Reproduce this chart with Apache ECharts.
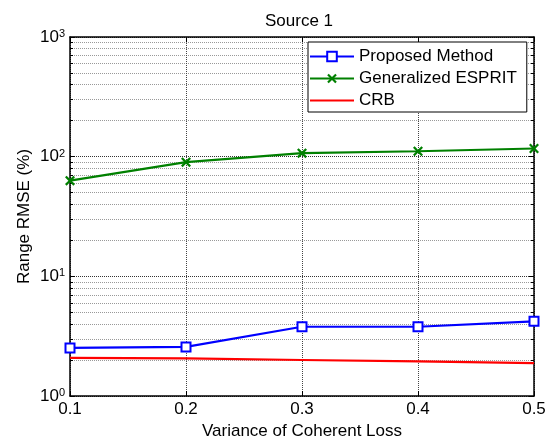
<!DOCTYPE html>
<html>
<head>
<meta charset="utf-8">
<script src="https://cdn.jsdelivr.net/npm/echarts@6/dist/echarts.min.js"></script>
<style>
html, body { margin: 0; padding: 0; background: #fff; }
#chart { width: 552px; height: 442px; }
</style>
</head>
<body>
<div id="chart"></div>
<script>
// Range RMSE (%) against coherent-loss variance for source 1
const variance = [0.1, 0.2, 0.3, 0.4, 0.5];
const proposedMethod = [2.52, 2.57, 3.79, 3.79, 4.21];
const generalizedEsprit = [63, 90, 107, 111, 117];
const crb = [2.08, 2.06, 2.0, 1.95, 1.88];
const yDecades = [1, 10, 100, 1000];

const FONT = 'Liberation Sans, Arial, sans-serif';
const pairs = vals => variance.map((x, i) => [x, vals[i]]);

// filled "x" glyph used as a marker
const crossPath = 'path://M0,1.6 L1.6,0 L5,3.4 L8.4,0 L10,1.6 L6.6,5 L10,8.4 L8.4,10 L5,6.6 L1.6,10 L0,8.4 L3.4,5 Z';

const chart = echarts.init(document.getElementById('chart'), null, { renderer: 'canvas' });

const gridLeft = 70, gridRight = 18, gridTop = 37, gridBottom = 46;

const xBase = {
  type: 'value',
  min: 0.1,
  max: 0.5,
  interval: 0.1,
  axisLine: { show: true, onZero: false, lineStyle: { color: '#000', width: 1.5 } },
  axisTick: { show: true, inside: true, length: 5, lineStyle: { color: '#000' } }
};

const yBase = {
  type: 'log',
  logBase: 10,
  min: yDecades[0],
  max: yDecades[yDecades.length - 1],
  axisLine: { show: true, lineStyle: { color: '#000', width: 1.5 } },
  axisTick: { show: true, inside: true, length: 5, lineStyle: { color: '#000' } },
  minorTick: { show: true, splitNumber: 9, length: 3, lineStyle: { color: '#000' } }
};

chart.setOption({
  animation: false,
  backgroundColor: '#fff',
  textStyle: { fontFamily: FONT },
  title: {
    text: 'Source 1',
    left: 260,
    top: 8,
    textStyle: { fontFamily: FONT, fontSize: 17, fontWeight: 'normal', color: '#000' }
  },
  grid: {
    left: gridLeft, right: gridRight, top: gridTop, bottom: gridBottom,
    containLabel: false,
    outerBoundsMode: 'none'
  },
  legend: {
    orient: 'vertical',
    left: 308,
    top: 42,
    width: 219,
    padding: [6, 10, 3, 1],
    itemGap: 5,
    itemWidth: 44,
    itemHeight: 12,
    backgroundColor: '#fff',
    borderColor: '#000',
    borderWidth: 1,
    textStyle: { fontFamily: FONT, fontSize: 17, color: '#000', lineHeight: 17 },
    data: [
      'Proposed Method',
      'Generalized ESPRIT',
      { name: 'CRB', itemStyle: { opacity: 0 } }
    ]
  },
  xAxis: [
    Object.assign({}, xBase, {
      position: 'bottom',
      name: 'Variance of Coherent Loss',
      nameLocation: 'middle',
      nameGap: 27,
      nameTextStyle: { fontFamily: FONT, fontSize: 17, color: '#000' },
      axisLabel: {
        margin: 5,
        fontFamily: FONT,
        fontSize: 17,
        color: '#000',
        formatter: v => v.toFixed(1)
      },
      splitLine: { show: true, lineStyle: { color: '#444', type: 'dotted', width: 1 } }
    }),
    Object.assign({}, xBase, {
      position: 'top',
      axisLabel: { show: false },
      splitLine: { show: false }
    })
  ],
  yAxis: [
    Object.assign({}, yBase, {
      position: 'left',
      name: 'Range RMSE (%)',
      nameLocation: 'middle',
      nameGap: 37,
      nameMoveOverlap: false,
      nameTextStyle: { fontFamily: FONT, fontSize: 17, color: '#000' },
      axisLabel: {
        margin: 5,
        color: '#000',
        formatter: v => '{b|10}{s|' + Math.round(Math.log10(v)) + '}',
        rich: {
          b: { fontFamily: FONT, fontSize: 17, color: '#000', lineHeight: 17, padding: [4, 0, 4, 0] },
          s: { fontFamily: FONT, fontSize: 11, color: '#000', lineHeight: 11, verticalAlign: 'top' }
        }
      },
      splitLine: { show: true, lineStyle: { color: '#333', type: 'dotted', width: 1 } },
      minorSplitLine: { show: true, lineStyle: { color: '#999', type: 'dotted', width: 1 } }
    }),
    Object.assign({}, yBase, {
      position: 'right',
      axisLabel: { show: false },
      splitLine: { show: false },
      minorSplitLine: { show: false }
    })
  ],
  series: [
    {
      name: 'Proposed Method',
      type: 'line',
      xAxisIndex: 0,
      yAxisIndex: 0,
      data: pairs(proposedMethod),
      symbol: 'emptyRect',
      symbolSize: 9,
      color: '#0000ff',
      lineStyle: { color: '#0000ff', width: 2.2 },
      itemStyle: { color: '#0000ff', borderColor: '#0000ff', borderWidth: 2 },
      z: 3
    },
    {
      name: 'Generalized ESPRIT',
      type: 'line',
      xAxisIndex: 0,
      yAxisIndex: 0,
      data: pairs(generalizedEsprit),
      symbol: crossPath,
      symbolSize: 10,
      color: '#008000',
      lineStyle: { color: '#008000', width: 2.2 },
      itemStyle: { color: '#008000' },
      z: 3
    },
    {
      name: 'CRB',
      type: 'line',
      xAxisIndex: 0,
      yAxisIndex: 0,
      data: pairs(crb),
      symbol: 'none',
      showSymbol: false,
      color: '#ff0000',
      lineStyle: { color: '#ff0000', width: 2.2 },
      z: 3
    }
  ]
});
</script>
</body>
</html>
